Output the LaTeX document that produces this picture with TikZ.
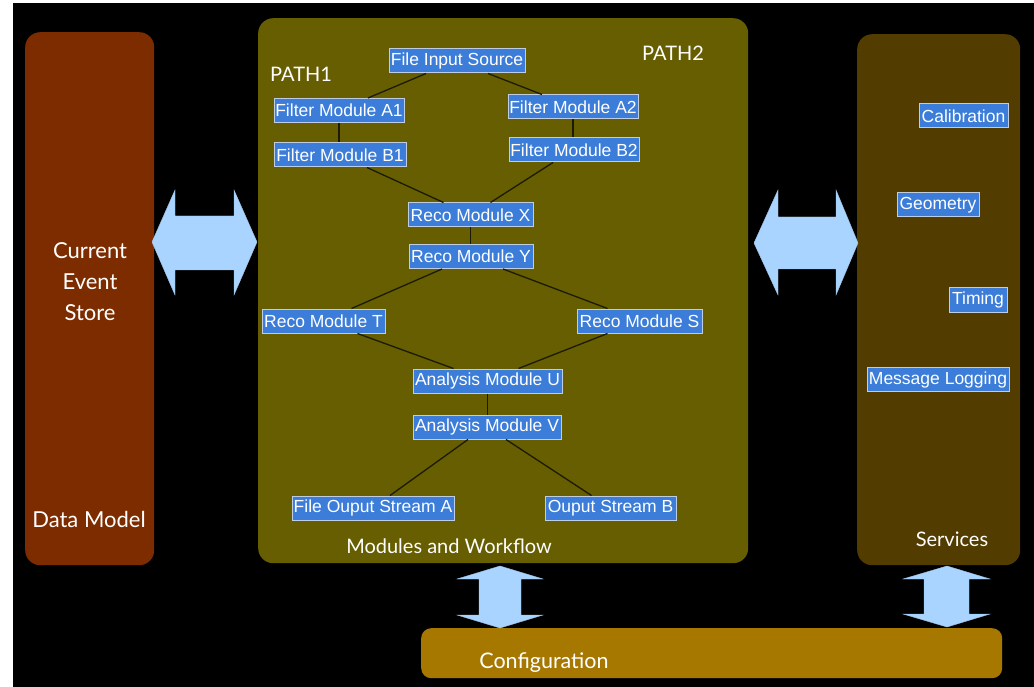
\documentclass[tikz,border=0pt]{standalone}
\usepackage{fontspec}
\setmainfont{Liberation Sans}
\newfontfamily\titlefont{Lato}
\usetikzlibrary{calc}

\definecolor{dmfill}{RGB}{125,44,0}
\definecolor{mwfill}{RGB}{102,94,0}
\definecolor{svfill}{RGB}{82,60,0}
\definecolor{cffill}{RGB}{166,120,0}
\definecolor{arrowblue}{RGB}{168,212,255}
\definecolor{modblue}{RGB}{59,125,216}
\definecolor{modedge}{RGB}{190,205,225}
\definecolor{wire}{RGB}{28,26,0}

\tikzset{
  panel/.style={rounded corners=15pt, inner sep=0pt, anchor=north west},
  modbox/.style={fill=modblue, draw=modedge, line width=1pt, text=white,
    font=\fontsize{17.5}{19}\selectfont, inner xsep=1pt, inner ysep=0pt,
    minimum height=24pt},
  wireline/.style={draw=wire, line width=1.3pt},
  bigarrow/.style={fill=arrowblue, draw=arrowblue!80!gray, line width=0.4pt},
  paneltitle/.style={text=white, font=\titlefont\fontsize{22}{31}\selectfont, align=center},
  subtitle/.style={text=white, font=\titlefont\fontsize{20}{24}\selectfont}
}

\begin{document}
\begin{tikzpicture}[x=1pt, y=-1pt]
  % page and dark backdrop
  \useasboundingbox (0,0) rectangle (1034,687);
  \fill[white] (0,0) rectangle (1034,687);
  \fill[black] (13,3) rectangle (1034,687);

  % panels
  \node[panel, fill=dmfill, minimum width=129pt, minimum height=533pt] (dm) at (25,32) {};
  \node[panel, fill=mwfill, minimum width=490pt, minimum height=545pt] (mw) at (258,18) {};
  \node[panel, fill=svfill, minimum width=163pt, minimum height=531pt] (sv) at (857,34) {};
  \node[panel, rounded corners=10pt, fill=cffill, minimum width=581pt, minimum height=50pt] (cf) at (421,628) {};

  % panel titles
  \node[paneltitle] (cestore) at (90,282) {Current\\Event\\Store};
  \node[paneltitle] (dmtitle) at (89,519) {Data Model};
  \node[subtitle] (mwtitle) at (449,546) {Modules and Workflow};
  \node[subtitle] (svtitle) at (952,539) {Services};
  \node[subtitle, font=\titlefont\fontsize{21.5}{24}\selectfont] (cftitle) at (544,663) {Configuration};
  \node[subtitle] (path1) at (301,74) {PATH1};
  \node[subtitle] (path2) at (673,53) {PATH2};

  % double-headed block arrows between panels
  \filldraw[bigarrow] (152,242) -- (175,190) -- (175,216) -- (234,216) -- (234,190)
    -- (257,242) -- (234,295) -- (234,270) -- (175,270) -- (175,295) -- cycle;
  \filldraw[bigarrow] (754,243) -- (778,190) -- (778,217) -- (836,217) -- (836,190)
    -- (858,243) -- (836,295) -- (836,269) -- (778,269) -- (778,295) -- cycle;
  \filldraw[bigarrow] (500,566) -- (543,579) -- (521,579) -- (521,615) -- (543,615)
    -- (500,628) -- (457,615) -- (479,615) -- (479,579) -- (457,579) -- cycle;
  \filldraw[bigarrow] (947,566) -- (990,579) -- (969,579) -- (969,614) -- (990,614)
    -- (947,627) -- (903,614) -- (924,614) -- (924,579) -- (903,579) -- cycle;

  % module boxes
  \node[modbox, minimum width=136pt] (fis) at (457,61) {File Input Source};
  \node[modbox, minimum width=130pt] (fa1) at (339,110.5) {Filter Module A1};
  \node[modbox, minimum width=130pt] (fa2) at (573,107) {Filter Module A2};
  \node[modbox, minimum width=132pt] (fb1) at (340,155) {Filter Module B1};
  \node[modbox, minimum width=130pt] (fb2) at (574,150) {Filter Module B2};
  \node[modbox, minimum width=125pt] (rx) at (470.5,215) {Reco Module X};
  \node[modbox, minimum width=124pt] (ry) at (471,256.5) {Reco Module Y};
  \node[modbox, minimum width=123pt] (rt) at (323.5,321) {Reco Module T};
  \node[modbox, minimum width=125pt] (rs) at (639.5,321) {Reco Module S};
  \node[modbox, minimum width=149pt] (au) at (487.5,381) {Analysis Module U};
  \node[modbox, minimum width=148pt] (av) at (487,427) {Analysis Module V};
  \node[modbox, minimum width=162pt] (osa) at (373,508) {File Ouput Stream A};
  \node[modbox, minimum width=131pt] (osb) at (610.5,508) {Ouput Stream B};

  % service boxes
  \node[modbox, minimum width=89pt] (cal) at (963.5,116) {Calibration};
  \node[modbox, minimum width=82pt] (geo) at (938,205) {Geometry};
  \node[modbox, minimum width=58pt] (tim) at (978,300) {Timing};
  \node[modbox, minimum width=142pt] (msg) at (938,379.5) {Message Logging};

  % workflow connections
  \draw[wireline] ([xshift=-31pt]fis.south) -- ([xshift=29pt]fa1.north);
  \draw[wireline] ([xshift=31pt]fis.south) -- ([xshift=-31pt]fa2.north);
  \draw[wireline] (fa1.south) -- (fa1.south |- fb1.north);
  \draw[wireline] (fa2.south) -- (fa2.south |- fb2.north);
  \draw[wireline] ([xshift=27pt]fb1.south) -- ([xshift=-27pt]rx.north);
  \draw[wireline] ([xshift=-21pt]fb2.south) -- ([xshift=20pt]rx.north);
  \draw[wireline] (rx.south) -- (rx.south |- ry.north);
  \draw[wireline] ([xshift=-29pt]ry.south) -- ([xshift=28pt]rt.north);
  \draw[wireline] ([xshift=32pt]ry.south) -- ([xshift=-32pt]rs.north);
  \draw[wireline] ([xshift=34pt]rt.south) -- ([xshift=-34pt]au.north);
  \draw[wireline] ([xshift=-32pt]rs.south) -- ([xshift=31pt]au.north);
  \draw[wireline] (au.south) -- (au.south |- av.north);
  \draw[wireline] ([xshift=-19pt]av.south) -- ([xshift=17pt]osa.north);
  \draw[wireline] ([xshift=19pt]av.south) -- ([xshift=-19pt]osb.north);
\end{tikzpicture}
\end{document}
